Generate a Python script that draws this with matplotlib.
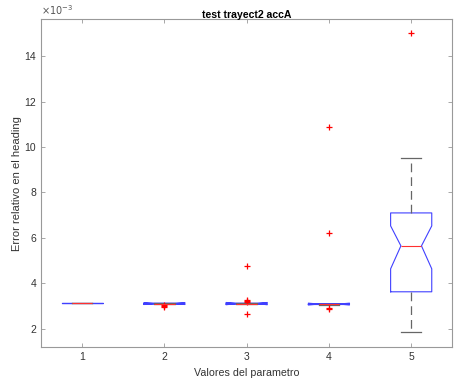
import matplotlib
matplotlib.use('Agg')
import matplotlib.pyplot as plt

plt.rcParams['font.family'] = ['Liberation Sans', 'DejaVu Sans']

# Boxplot statistics (units of 1e-3)
positions = [1, 2, 3, 4, 5]
q1 = [3.13, 3.09, 3.09, 3.07, 3.63]
med = [3.13, 3.11, 3.11, 3.09, 5.65]
q3 = [3.13, 3.13, 3.13, 3.11, 7.10]
whislo = [3.13, 3.09, 3.09, 3.07, 1.87]
whishi = [3.13, 3.13, 3.13, 3.11, 9.52]
cilo = [3.13, 3.07, 3.06, 3.05, 4.64]
cihi = [3.13, 3.15, 3.16, 3.13, 6.53]
fliers = [
    [],
    [2.97, 3.02, 3.05],
    [4.78, 3.28, 3.22, 3.18, 2.66],
    [10.88, 6.22, 2.92, 2.86],
    [15.0],
]
xlabels = ['1', '2', '3', '4', '5']

stats = []
for i in range(len(positions)):
    stats.append({
        'q1': q1[i] * 1e-3, 'med': med[i] * 1e-3, 'q3': q3[i] * 1e-3,
        'whislo': whislo[i] * 1e-3, 'whishi': whishi[i] * 1e-3,
        'cilo': cilo[i] * 1e-3, 'cihi': cihi[i] * 1e-3,
        'fliers': [f * 1e-3 for f in fliers[i]],
    })

fig = plt.figure(figsize=(4.54, 3.81), dpi=100)
ax = fig.add_axes([0.0903, 0.088, 0.906, 0.862])

ax.bxp(stats, positions=positions, widths=0.5, shownotches=True,
       boxprops=dict(color='#4040ff', linewidth=0.8),
       medianprops=dict(color='#ff3030', linewidth=0.8),
       whiskerprops=dict(color='#666666', linewidth=0.9, linestyle=(0, (7, 4))),
       capprops=dict(color='#666666', linewidth=0.9),
       flierprops=dict(marker='+', markeredgecolor='red', markersize=5,
                       linestyle='none', markeredgewidth=0.9),
       capwidths=0.25)

ax.set_xlim(0.5, 5.5)
ax.set_ylim(1.18e-3, 15.63e-3)
ax.set_xticks(positions)
ax.set_xticklabels(xlabels)
ax.set_yticks([v * 1e-3 for v in [2, 4, 6, 8, 10, 12, 14]])
ax.set_yticklabels(['2', '4', '6', '8', '10', '12', '14'])

for s in ax.spines.values():
    s.set_color('#999999')
    s.set_linewidth(0.8)
ax.tick_params(direction='in', length=3, width=0.6, colors='#999999',
               labelcolor='#333333', labelsize=7.5, top=True, right=True)

ax.set_title('test trayect2 accA', fontsize=7.6, fontweight='bold', pad=1)
ax.set_xlabel('Valores del parametro', fontsize=7.7, color='#333333', labelpad=4)
ax.set_ylabel('Error relativo en el heading', fontsize=8, color='#333333', labelpad=2)
ax.text(0.0, 1.005, r'$\times10^{-3}$', transform=ax.transAxes, fontsize=7,
        color='#555555', ha='left', va='bottom')

fig.savefig('out.png', dpi=100)
